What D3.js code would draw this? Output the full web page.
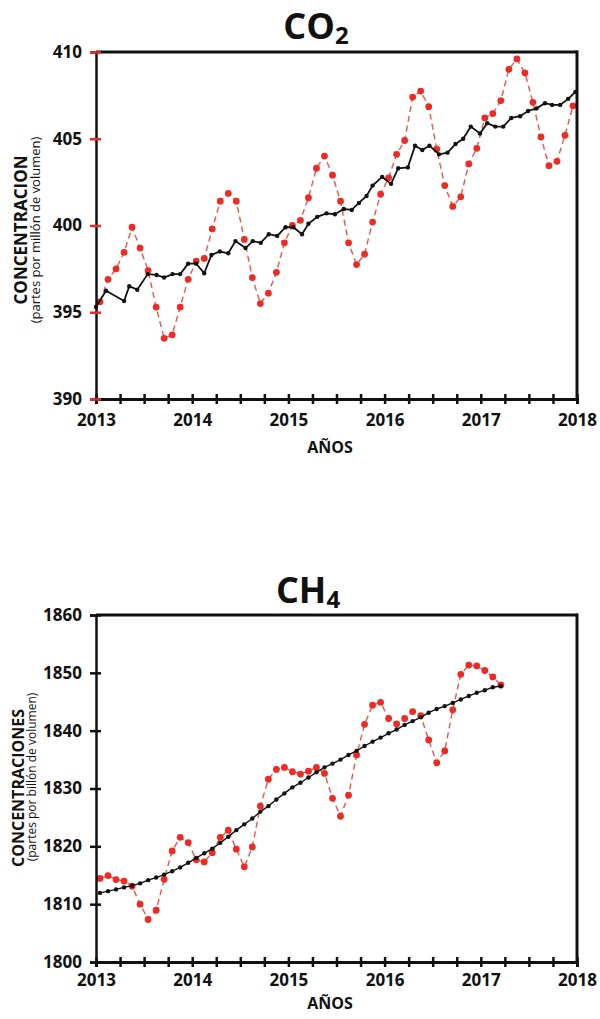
<!DOCTYPE html>
<html>
<head>
<meta charset="utf-8">
<script src="https://cdn.jsdelivr.net/npm/d3@7"></script>
<style>
  body { margin: 0; background: #fff; }
  text { font-family: "Open Sans", sans-serif; fill: #111; }
</style>
</head>
<body>
<div id="chart"></div>
<script>
/*
  Two small panels: CO2 (Mauna Loa) and CH4 monthly concentration,
  red dashed = monthly mean, black = de-seasonalised trend.
*/

// ---- DATA ----
var yearTicks = [2013, 2014, 2015, 2016, 2017, 2018];

var co2Ticks = [390, 395, 400, 405, 410];
// monthly mean, Jan 2013 .. Dec 2017 (ppm)
var co2Monthly = [
  395.6, 396.9, 397.5, 398.45, 399.9, 398.7, 397.4, 395.3, 393.5, 393.7, 395.3, 396.9,
  397.95, 398.1, 399.8, 401.4, 401.85, 401.4, 399.2, 397.0, 395.5, 396.1, 397.3, 399.0,
  400.0, 400.3, 401.6, 403.3, 404.0, 402.9, 401.4, 399.0, 397.75, 398.35, 400.2, 401.8,
  402.75, 404.1, 404.9, 407.4, 407.75, 406.85, 404.4, 402.3, 401.1, 401.65, 403.55, 404.45,
  406.2, 406.45, 407.2, 409.0, 409.6, 408.8, 407.1, 405.1, 403.45, 403.7, 405.2, 406.9
];
// trend line: month offset from Jan 2013, value
var co2TrendMonth = [
  0, 1.25, 3.5, 4.15, 5.15, 6.45, 7.55, 8.5, 9.55, 10.5, 11.5, 12.5, 13.5, 14.4, 15.45,
  16.5, 17.4, 18.65, 19.55, 20.55, 21.55, 22.6, 23.65, 24.6, 25.7, 26.5, 27.6, 28.75, 29.8,
  30.9, 31.9, 32.8, 33.75, 34.5, 35.7, 36.8, 37.7, 38.9, 39.8, 40.7, 41.6, 42.8, 43.85,
  44.85, 45.8, 46.75, 47.9, 48.8, 49.8, 50.8, 51.8, 52.9, 53.9, 54.95, 56, 56.9, 57.9,
  58.9, 59.8
];
var co2TrendValue = [
  395.3, 396.24, 395.65, 396.5, 396.3, 397.2, 397.15, 397.0, 397.2, 397.2, 397.8, 397.8,
  397.25, 398.3, 398.5, 398.4, 399.1, 398.7, 399.1, 399.0, 399.5, 399.4, 399.9, 399.9,
  399.5, 400.1, 400.5, 400.7, 400.65, 400.95, 400.9, 401.3, 401.7, 402.3, 402.8, 402.4,
  403.3, 403.35, 404.6, 404.35, 404.6, 404.1, 404.2, 404.7, 405.0, 405.7, 405.3, 405.9,
  405.7, 405.7, 406.2, 406.3, 406.6, 406.75, 407.05, 406.95, 406.95, 407.3, 407.7
];

var ch4Ticks = [1800, 1810, 1820, 1830, 1840, 1850, 1860];
// monthly mean, Jan 2013 .. Mar 2017 (ppb)
var ch4Monthly = [
  1814.45, 1814.95, 1814.25, 1814.0, 1813.1, 1810.0, 1807.35, 1808.95, 1814.3, 1819.2, 1821.55, 1820.65,
  1817.7, 1817.3, 1818.9, 1821.55, 1822.8, 1819.5, 1816.45, 1819.9, 1826.95, 1831.6, 1833.3, 1833.65,
  1832.9, 1832.5, 1833.0, 1833.65, 1832.6, 1828.3, 1825.2, 1828.85, 1835.8, 1841.1, 1844.4, 1844.9,
  1842.1, 1841.15, 1842.1, 1843.3, 1842.6, 1838.4, 1834.45, 1836.5, 1843.6, 1849.75, 1851.35, 1851.2,
  1850.4, 1849.3, 1847.9
];
var ch4Trend = [
  1811.95, 1812.25, 1812.55, 1812.9, 1813.2, 1813.6, 1814.15, 1814.6, 1815.1, 1815.7, 1816.35, 1817.15,
  1818.0, 1818.8, 1819.6, 1820.6, 1821.65, 1822.8, 1823.8, 1824.8, 1826.0, 1826.95, 1828.1, 1829.15,
  1830.2, 1831.0, 1831.9, 1832.8, 1833.65, 1834.3, 1835.0, 1835.8, 1836.5, 1837.35, 1838.1, 1838.8,
  1839.55, 1840.2, 1841.0, 1841.65, 1842.3, 1843.1, 1843.75, 1844.25, 1844.8, 1845.4, 1846.0, 1846.55,
  1847.0, 1847.5, 1847.7
];

// ---- LAYOUT ----
var width = 600, height = 1019;
var redLine = "#f0544a", redDot = "#ee2a24";

var svg = d3.select("#chart").append("svg")
  .attr("width", width)
  .attr("height", height);

// month index -> decimal year (mid month)
function midMonth(i) { return 2013 + (i + 0.5) / 12; }
function atMonth(m) { return 2013 + m / 12; }

function drawPanel(p) {
  var x = d3.scaleLinear().domain([2013, 2018]).range([96, 577]);
  var y = d3.scaleLinear().domain(d3.extent(p.yTicks)).range([p.bottom, p.top]);

  var g = svg.append("g");

  // title with subscript
  var t = g.append("text")
    .attr("x", p.titleX).attr("y", p.titleY)
    .attr("text-anchor", "middle")
    .style("font-size", "36px").style("font-weight", 700);
  t.append("tspan").text(p.title);
  t.append("tspan").text(p.sub)
    .attr("dy", 5).style("font-size", "24px");

  // red monthly series (dashed)
  var red = p.monthly.map(function(v, i) { return [midMonth(i), v]; });
  var black = p.trend;

  var line = d3.line()
    .x(function(d) { return x(d[0]); })
    .y(function(d) { return y(d[1]); });

  g.append("path").datum(red)
    .attr("d", line)
    .attr("fill", "none")
    .attr("stroke", redLine)
    .attr("stroke-width", 1.4)
    .attr("stroke-dasharray", "6,4");

  g.append("g").selectAll("circle")
    .data(red).enter().append("circle")
      .attr("cx", function(d) { return x(d[0]); })
      .attr("cy", function(d) { return y(d[1]); })
      .attr("r", 3.4)
      .attr("fill", redDot);

  g.append("path").datum(black)
    .attr("d", line)
    .attr("fill", "none")
    .attr("stroke", "#111")
    .attr("stroke-width", p.trendWidth);

  g.append("g").selectAll("circle")
    .data(black).enter().append("circle")
      .attr("cx", function(d) { return x(d[0]); })
      .attr("cy", function(d) { return y(d[1]); })
      .attr("r", 2.2)
      .attr("fill", "#111");

  // frame: top and right
  g.append("line")
    .attr("x1", 96).attr("x2", 577.5)
    .attr("y1", p.top).attr("y2", p.top)
    .attr("stroke", "#111").attr("stroke-width", 3);
  g.append("line")
    .attr("x1", 577).attr("x2", 577)
    .attr("y1", p.top - 1.5).attr("y2", p.bottom)
    .attr("stroke", "#111").attr("stroke-width", 3);

  // x axis, quarter ticks crossing the line
  var xAxis = g.append("g")
    .attr("transform", "translate(0," + p.bottom + ")")
    .call(d3.axisBottom(x)
      .tickValues(d3.range(2013, 2018.01, 0.25))
      .tickSize(5)
      .tickFormat(function(d) { return yearTicks.indexOf(d) >= 0 ? d : ""; }));
  xAxis.select(".domain").attr("stroke", "#111").attr("stroke-width", 3);
  xAxis.selectAll(".tick line")
    .attr("y1", -5).attr("stroke", "#111").attr("stroke-width", 2.5);
  xAxis.selectAll(".tick text")
    .attr("y", p.xLabelDy).attr("dy", 0)
    .style("font-family", "'Open Sans', sans-serif")
    .style("font-size", "17px").style("font-weight", 700)
    .attr("fill", "#111");

  // y axis
  var yAxis = g.append("g")
    .attr("transform", "translate(96,0)")
    .call(d3.axisLeft(y).tickValues(p.yTicks).tickSize(6).tickPadding(8)
      .tickFormat(d3.format("d")));
  yAxis.select(".domain").attr("stroke", "#111").attr("stroke-width", 2.5);
  yAxis.selectAll(".tick line")
    .attr("x1", 5).attr("stroke", p.yTickColor).attr("stroke-width", 2.5);
  yAxis.selectAll(".tick text")
    .style("font-family", "'Open Sans', sans-serif")
    .style("font-size", p.yLabelSize).style("font-weight", 700)
    .attr("fill", "#111");

  // axis titles
  g.append("text")
    .attr("x", 330).attr("y", p.bottom + p.xTitleDy)
    .attr("text-anchor", "middle")
    .style("font-size", "16px").style("font-weight", 700)
    .text("AÑOS");

  g.append("text")
    .attr("transform", "translate(" + p.yTitleX + "," + p.yTitleY + ") rotate(-90)")
    .attr("text-anchor", "middle")
    .style("font-size", p.yTitleSize).style("font-weight", 700)
    .text(p.yTitle);
  g.append("text")
    .attr("transform", "translate(" + p.ySubX + "," + p.ySubY + ") rotate(-90)")
    .attr("text-anchor", "middle")
    .style("font-size", p.ySubSize)
    .text(p.ySub);
}

drawPanel({
  top: 52, bottom: 399,
  yTicks: co2Ticks, yTickColor: "#ee2a24", yLabelSize: "17px",
  monthly: co2Monthly,
  trend: co2TrendMonth.map(function(m, i) { return [atMonth(m), co2TrendValue[i]]; }),
  trendWidth: 1.8,
  title: "CO", sub: "2", titleX: 316, titleY: 39,
  xLabelDy: 27, xTitleDy: 54,
  yTitle: "CONCENTRACION", yTitleX: 27, yTitleY: 230, yTitleSize: "17px",
  ySub: "(partes por millón de volumen)", ySubX: 40, ySubY: 230, ySubSize: "13px"
});

drawPanel({
  top: 615, bottom: 962,
  yTicks: ch4Ticks, yTickColor: "#111", yLabelSize: "17px",
  monthly: ch4Monthly,
  trend: ch4Trend.map(function(v, i) { return [midMonth(i), v]; }),
  trendWidth: 1.4,
  title: "CH", sub: "4", titleX: 308, titleY: 603,
  xLabelDy: 24, xTitleDy: 47,
  yTitle: "CONCENTRACIONES", yTitleX: 24, yTitleY: 788, yTitleSize: "16px",
  ySub: "(partes por billón de volumen)", ySubX: 36, ySubY: 777, ySubSize: "12px"
});
</script>
</body>
</html>
